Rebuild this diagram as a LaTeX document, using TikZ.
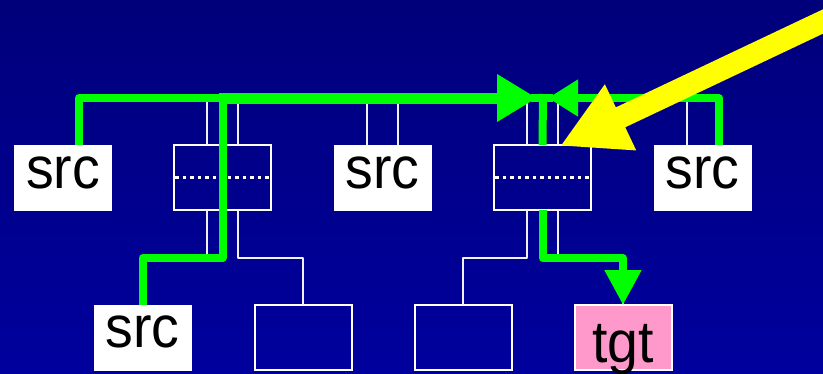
\documentclass[tikz,border=0pt]{standalone}
\usepackage{fontspec}
\setmainfont{Liberation Sans}
\usepackage{graphicx}
\usetikzlibrary{arrows.meta}
\definecolor{bgtop}{RGB}{0,0,122}
\definecolor{bgbot}{RGB}{0,0,158}
\definecolor{pathgreen}{RGB}{0,255,0}
\definecolor{hilite}{RGB}{255,255,0}
\definecolor{tgtpink}{RGB}{255,153,204}
\definecolor{wirewhite}{RGB}{240,240,255}
\newcommand{\boxtext}[1]{\fontsize{59}{59}\selectfont\scalebox{0.94}[1]{#1}}
\begin{document}
\begin{tikzpicture}[x=1pt,y=-1pt,
  box/.style={minimum width=97pt,minimum height=65pt,inner sep=0pt,outer sep=0pt},
  srcbox/.style={box,minimum width=98pt,minimum height=66pt,fill=white,text height=30pt,text depth=10pt},
  swbox/.style={box,draw=white,line width=2pt},
  emptybox/.style={box,draw=white,line width=2pt},
  tgtbox/.style={box,fill=tgtpink,draw=white,line width=2pt,text height=49pt,text depth=0pt},
  wire/.style={draw=wirewhite,line width=2.8pt,line join=round},
  dotline/.style={draw=white,line width=3.5pt,dash pattern=on 3.5pt off 4pt},
  route/.style={draw=pathgreen,line width=8pt,line join=round},
  bigroute/.style={route,line width=11pt},
  pointer/.style={draw=hilite,line width=22pt}]
\useasboundingbox (0,0) rectangle (823,373);
\shade[top color=bgtop,bottom color=bgbot] (0,0) rectangle (823,373);

\coordinate (bus) at (0,98);
\coordinate (lowbus) at (0,258);
\coordinate (jn) at (543,98);

\node[srcbox] (src1) at (63,178) {\boxtext{src}};
\node[swbox] (sw1) at (222.5,177.5) {};
\node[srcbox] (src2) at (382.5,178) {\boxtext{src}};
\node[swbox] (sw2) at (542.5,177.5) {};
\node[srcbox] (src3) at (702.5,178) {\boxtext{src}};
\node[srcbox] (src4) at (142.5,337.5) {\boxtext{src}};
\node[emptybox] (e1) at (303,337.5) {};
\node[emptybox] (e2) at (463,337.5) {};
\node[tgtbox] (tgt) at (623,337.5) {\boxtext{tgt}};

\draw[dotline] ([xshift=1pt]sw1.west) -- (sw1.east);
\draw[dotline] ([xshift=1pt]sw2.west) -- (sw2.east);

% white wires, top
\foreach \n in {sw1,src2,sw2}{
  \draw[wire] ([xshift=-15.5pt]\n.north) -- ([xshift=-15.5pt]\n.north |- bus);
  \draw[wire] ([xshift=15.5pt]\n.north) -- ([xshift=15.5pt]\n.north |- bus);
}
\draw[wire] ([xshift=-15.5pt]src3.north) -- ([xshift=-15.5pt]src3.north |- bus);
% white wires, bottom
\draw[wire] ([xshift=-15.5pt]sw1.south) |- (src4.north |- lowbus) -- (src4.north);
\draw[wire] ([xshift=15.5pt]sw1.south) |- (e1.north |- lowbus) -- (e1.north);
\draw[wire] ([xshift=-15.5pt]sw2.south) |- (e2.north |- lowbus) -- (e2.north);
\draw[wire] ([xshift=15.5pt]sw2.south) |- (tgt.north |- lowbus) -- (tgt.north);

% green routes
\draw[route] ([xshift=-12pt]jn) -- ([xshift=10pt]jn);
\draw[route] ([yshift=4pt]jn) -- (sw2.north);
\draw[route] ([xshift=16pt]src1.north) |- (sw1.north |- bus);
\draw[route] (src4.north) |- (sw1.south |- lowbus) -- (sw1.north |- bus);
\draw[bigroute,-{Triangle[length=40pt,width=45pt]}] ([xshift=-4pt]sw1.north |- bus) -- ([xshift=-6pt]jn);
\draw[route,-{Triangle[length=30pt,width=35pt]}] ([xshift=16.5pt]src3.north) |- ([xshift=5pt]jn);
\draw[route,-{Triangle[length=35pt,width=35pt]}] (sw2.south) |- (tgt.north |- lowbus) -- (tgt.north);

% yellow pointer
\coordinate (ytail) at (850,8.7);
\coordinate (ytip) at (560,146);
\draw[pointer,-{Triangle[length=67pt,width=68pt]}] (ytail) -- (ytip);
\end{tikzpicture}
\end{document}
